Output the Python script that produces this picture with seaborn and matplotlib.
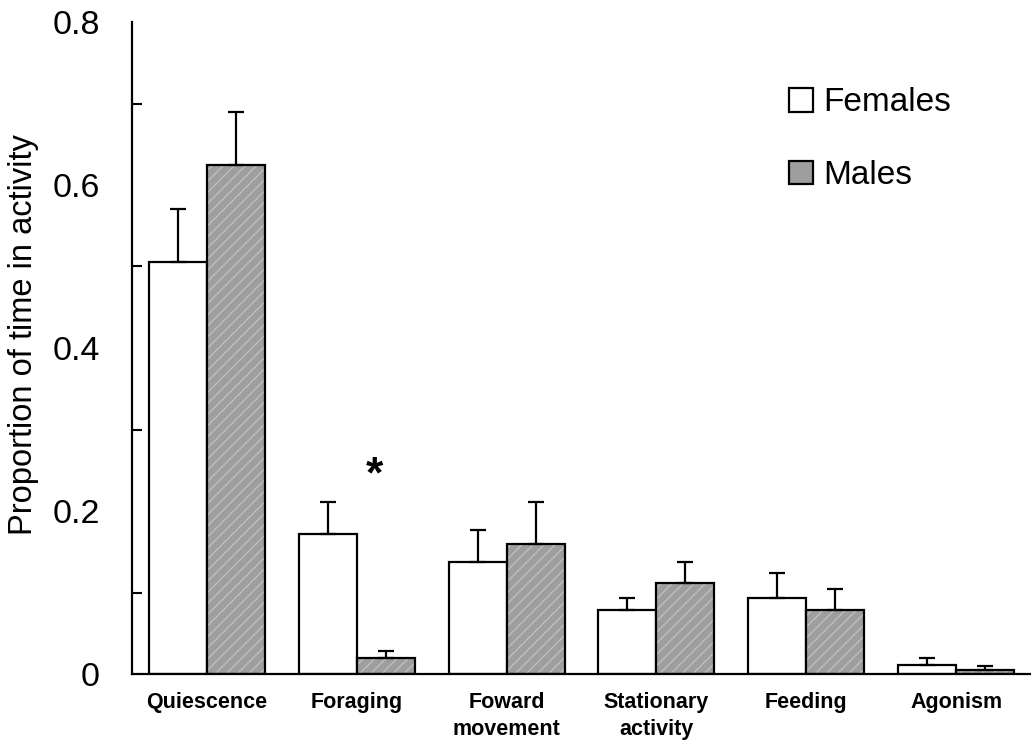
import matplotlib
matplotlib.use("Agg")
import matplotlib.pyplot as plt
import seaborn as sns
import pandas as pd
import numpy as np
from matplotlib.colors import to_rgba

categories = ["Quiescence", "Foraging", "Foward\nmovement", "Stationary\nactivity", "Feeding", "Agonism"]
groups = ["Females", "Males"]
females = [0.506, 0.172, 0.137, 0.078, 0.093, 0.011]
females_err_top = [0.571, 0.211, 0.177, 0.093, 0.124, 0.0196]
males = [0.625, 0.0196, 0.160, 0.112, 0.078, 0.0053]
males_err_top = [0.690, 0.0277, 0.211, 0.138, 0.104, 0.010]
y_ticks = [0, 0.2, 0.4, 0.6, 0.8]
y_tick_labels = ["0", "0.2", "0.4", "0.6", "0.8"]
y_label = "Proportion of time in activity"
signif_category = 1
signif_mark = "*"
signif_y = 0.243

sns.set_style("white")
plt.rcParams["font.family"] = ["Liberation Sans", "DejaVu Sans"]
plt.rcParams["hatch.linewidth"] = 0.9
for key in ["text.color", "axes.labelcolor", "xtick.color", "ytick.color", "axes.edgecolor"]:
    plt.rcParams[key] = "black"

df = pd.DataFrame({
    "activity": categories * 2,
    "sex": [groups[0]] * len(categories) + [groups[1]] * len(categories),
    "value": females + males,
})

fig = plt.figure(figsize=(10.31, 7.40), dpi=100)
ax = fig.add_axes([132 / 1031, 66 / 740, 1 - 132 / 1031, (674 - 22) / 740])

sns.barplot(data=df, x="activity", y="value", hue="sex", order=categories,
            hue_order=groups, palette=["white", "#9e9e9e"], width=0.775,
            errorbar=None, edgecolor="black", linewidth=1.6, saturation=1,
            ax=ax, legend=True)

tops = {groups[0]: females_err_top, groups[1]: males_err_top}
vals = {groups[0]: females, groups[1]: males}
bar_containers = list(ax.containers)[:2]
for gi, cont in enumerate(bar_containers):
    g = groups[gi]
    for bi, patch in enumerate(cont.patches):
        if gi == 1:
            patch.set_hatch("///")
            if hasattr(patch, "set_hatchcolor"):
                patch.set_hatchcolor("#c2c2c2")
            else:
                patch._hatch_color = to_rgba("#c2c2c2")
        xc = patch.get_x() + patch.get_width() / 2
        v = vals[g][bi]
        ax.errorbar([xc], [v], yerr=[[0], [tops[g][bi] - v]], fmt="none",
                    ecolor="black", elinewidth=1.6, capsize=6, capthick=1.6,
                    zorder=1)

ax.text(signif_category + 0.115, signif_y, signif_mark, ha="center", va="center",
        fontsize=32, fontweight="bold")

ax.set_xlim(-0.5, 5.5)
ax.set_ylim(0, 0.8)
ax.set_yticks(y_ticks)
ax.set_yticklabels(y_tick_labels)
ax.set_yticks(np.arange(0.1, 0.8, 0.2), minor=True)
ax.tick_params(axis="y", which="major", direction="in", length=9, width=1.5,
               labelsize=24.5, pad=23)
ax.tick_params(axis="y", which="minor", direction="in", length=7, width=1.5, left=True)
ax.tick_params(axis="x", length=0, labelsize=15.5, pad=13)
for lab in ax.get_xticklabels():
    lab.set_fontweight("bold")
    lab.set_linespacing(1.4)
ax.set_xlabel("")
ax.set_ylabel(y_label, fontsize=23.5)
ax.yaxis.set_label_coords(-0.103, 0.52)

sns.despine(ax=ax)
ax.spines["left"].set_linewidth(1.6)
ax.spines["bottom"].set_linewidth(1.6)

handles, labels = ax.get_legend_handles_labels()
ax.legend(handles, labels, loc="upper left", bbox_to_anchor=(0.716, 0.92),
          frameon=False, fontsize=24, handlelength=0.72, handleheight=0.72,
          handletextpad=0.3, labelspacing=1.25, borderaxespad=0)

fig.savefig("out.png", dpi=100)
